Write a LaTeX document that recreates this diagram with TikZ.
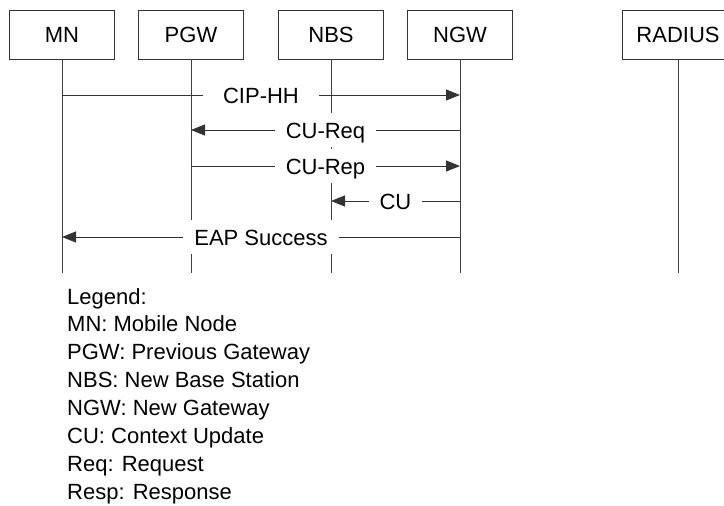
\documentclass[tikz,border=0pt]{standalone}
\usepackage{fontspec}
\setmainfont{Liberation Sans}
\usetikzlibrary{arrows.meta}
\begin{document}
\begin{tikzpicture}[x=1pt,y=-1pt,
  every node/.style={font=\fontsize{22}{26}\selectfont},
  entity/.style={draw=black!80, line width=0.9pt, minimum width=105pt, minimum height=49pt, inner sep=0pt},
  lifeline/.style={draw=black!75, line width=0.9pt},
  msg/.style={draw=black!80, line width=0.9pt, -{Triangle[length=14pt,width=11pt]}},
  msglabel/.style={fill=white, inner xsep=11pt, inner ysep=9pt, text height=16pt, text depth=0pt},
  legendline/.style={anchor=base west, inner sep=0pt}]
\useasboundingbox (0,0) rectangle (724,506);
\clip (0,0) rectangle (724,506);

% participants
\node[entity] (mn)  at (62,34.5)  {MN};
\node[entity] (pgw) at (191,34.5) {PGW};
\node[entity] (nbs) at (331,34.5) {NBS};
\node[entity] (ngw) at (460,34.5) {NGW};
\node[entity, minimum width=112pt] (rad) at (678,34.5) {RADIUS};

% lifeline ends
\coordinate (mnE)  at (62,273);
\coordinate (pgwE) at (191,273);
\coordinate (nbsE) at (331,273);
\coordinate (ngwE) at (460,273);
\coordinate (radE) at (678,273);
\foreach \p in {mn,pgw,nbs,ngw,rad}
  \draw[lifeline] (\p.south) -- (\p E);

% message attachment points
\coordinate (mn1)  at (62,95);
\coordinate (ngw1) at (460,95);
\coordinate (ngw2) at (460,130);
\coordinate (pgw2) at (191,130);
\coordinate (pgw3) at (191,166);
\coordinate (ngw3) at (460,166);
\coordinate (ngw4) at (460,201);
\coordinate (nbs4) at (331,201);
\coordinate (ngw5) at (460,237);
\coordinate (mn5)  at (62,237);

% messages
\draw[msg] (mn1)  -- node[msglabel, inner xsep=20pt] {CIP-HH} (ngw1);
\draw[msg] (ngw2) -- node[msglabel] {CU-Req} (pgw2);
\draw[msg] (pgw3) -- node[msglabel] {CU-Rep} (ngw3);
\draw[msg] (ngw4) -- node[msglabel] {CU} (nbs4);
\draw[msg] (ngw5) -- node[msglabel] {EAP Success} (mn5);

% legend
\foreach \t [count=\i from 0] in {Legend:, MN: Mobile Node, PGW: Previous Gateway,
    NBS: New Base Station, NGW: New Gateway, CU: Context Update,
    Req: Request, Resp: Response}
  \node[legendline] (leg\i) at (67,304+27.86*\i) {\t};
\end{tikzpicture}
\end{document}
